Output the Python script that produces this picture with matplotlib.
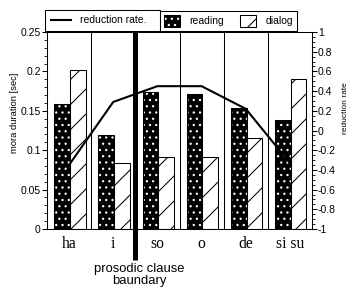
import matplotlib
matplotlib.use('Agg')
import matplotlib.pyplot as plt
from matplotlib.patches import Patch
from matplotlib.lines import Line2D
from matplotlib.legend_handler import HandlerTuple
import numpy as np

# data
morae = ["ha", "i", "so", "o", "de", "si su"]
reading = [0.159, 0.119, 0.174, 0.171, 0.153, 0.138]
dialog = [0.202, 0.084, 0.092, 0.092, 0.116, 0.190]
reduction = [-0.35, 0.29, 0.45, 0.45, 0.22, -0.33]

left_ticks = [0, 0.05, 0.1, 0.15, 0.2, 0.25]
left_labels = ["0", "0.05", "0.1", "0.15", "0.2", "0.25"]
right_ticks = [-1, -0.8, -0.6, -0.4, -0.2, 0, 0.2, 0.4, 0.6, 0.8, 1]
right_labels = ["-1", "-0.8", "-0.6", "-0.4", "-0.2", "0", "0.2", "0.4", "0.6", "0.8", "1"]

plt.rcParams['font.family'] = ['Liberation Sans', 'DejaVu Sans']
plt.rcParams['hatch.linewidth'] = 1.0

# low dpi so the hatch cells come out about as dense as the scan
dpi = 75
fig = plt.figure(figsize=(351/dpi, 287/dpi), dpi=dpi)
ax = fig.add_axes([47/351, 58/287, 265/351, 197/287])

x = np.arange(len(morae))
w = 0.355

# reading: black with white dots
ax.bar(x - 0.16, reading, w, facecolor='black', edgecolor='white', hatch='..', linewidth=0, zorder=2)
ax.bar(x - 0.16, reading, w, fill=False, edgecolor='black', linewidth=1, zorder=3)
# dialog: white with diagonal lines
ax.bar(x + 0.195, dialog, w, facecolor='white', edgecolor='black', hatch='/', linewidth=1, zorder=2)

# group separators
for b in [0.5, 2.5, 3.5, 4.5]:
    ax.axvline(b, color='black', linewidth=1, zorder=1)
ax.plot([1.5, 1.5], [-0.157, 1], transform=ax.get_xaxis_transform(), clip_on=False,
        color='black', linewidth=4.8, solid_capstyle='butt', zorder=4)
ax.text(1.6, -0.172, "prosodic clause\nbaundary", transform=ax.get_xaxis_transform(),
        ha='center', va='top', fontsize=12.5, linespacing=1.0)

ax.set_xlim(-0.5, 5.5)
ax.set_ylim(0, 0.25)
ax.set_xticks(x)
ax.set_xticklabels(morae, family=['Liberation Serif', 'DejaVu Serif'], fontsize=15)
ax.tick_params(axis='x', length=0, pad=7)
ax.set_yticks(left_ticks)
ax.set_yticklabels(left_labels, fontsize=10)
ax.set_yticks(np.arange(0, 0.2501, 0.01), minor=True)
ax.tick_params(axis='y', which='major', length=4.5, width=1, pad=1.5)
ax.tick_params(axis='y', which='minor', length=2.5, width=0.8)
ax.set_ylabel("mora duration [sec]", fontsize=9)
ax.yaxis.set_label_coords(-0.106, 0.589)
for s in ax.spines.values():
    s.set_linewidth(1)

ax2 = ax.twinx()
ax2.plot(x, reduction, color='black', linewidth=2, zorder=5)
ax2.set_ylim(-1, 1)
ax2.set_yticks(right_ticks)
ax2.set_yticklabels(right_labels, fontsize=10)
ax2.set_yticks(np.arange(-1, 1.001, 0.05), minor=True)
ax2.tick_params(axis='y', which='major', length=4.5, width=1, pad=1)
ax2.tick_params(axis='y', which='minor', length=2.5, width=0.8)
ax2.set_ylabel("reduction rate", fontsize=8)
ax2.yaxis.set_label_coords(1.112, 0.614)

# two legend boxes sitting on top of the frame
h_line = Line2D([], [], color='black', linewidth=2)
leg1 = fig.legend([h_line], ["reduction rate."], loc='lower left',
                  bbox_to_anchor=(45/351, 1 - 31/287, 115/351, 22/287), mode='expand',
                  borderaxespad=0, borderpad=0.55, fontsize=10, handlelength=1.9,
                  handletextpad=0.9, fancybox=False, edgecolor='black', framealpha=1)
leg1.get_frame().set_linewidth(1)

h_read = (Patch(facecolor='black', edgecolor='white', hatch='..', linewidth=0),
          Patch(fill=False, edgecolor='black', linewidth=1))
h_dia = Patch(facecolor='white', edgecolor='black', hatch='/', linewidth=1)
leg2 = fig.legend([h_read, h_dia], ["reading", "dialog"], loc='lower left', ncols=2,
                  bbox_to_anchor=(160/351, 1 - 31/287, 137/351, 22/287), mode='expand',
                  borderaxespad=0, borderpad=0.4, fontsize=10, handlelength=1.5,
                  handleheight=1.4, handletextpad=0.9, columnspacing=1.0,
                  handler_map={tuple: HandlerTuple(ndivide=1)},
                  fancybox=False, edgecolor='black', framealpha=1)
leg2.get_frame().set_linewidth(1)

fig.savefig("out.png", dpi=dpi)
